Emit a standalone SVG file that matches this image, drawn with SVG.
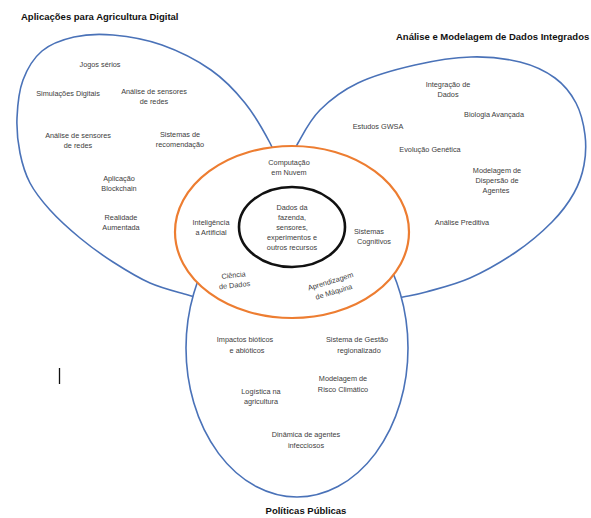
<svg xmlns="http://www.w3.org/2000/svg" width="591" height="518" viewBox="0 0 591 518">
  <style>
    .bg { fill: #ffffff; }
    .petal { fill: none; stroke: #4a72b8; stroke-width: 1.6; }
    .lobe { fill: #ffffff; stroke: #4a72b8; stroke-width: 1.6; }
    .ring { fill: #ffffff; stroke: #ed7d31; stroke-width: 2.2; }
    .core { fill: #ffffff; stroke: #111111; stroke-width: 2.6; }
    .lbl { font-family: "Liberation Sans", Arial, sans-serif; font-size: 7.3px; fill: #3d3d3d; text-anchor: middle; }
    .ttl { font-family: "Liberation Sans", Arial, sans-serif; font-size: 9.5px; font-weight: bold; fill: #111111; }
  </style>

  <rect class="bg" x="0" y="0" width="591" height="518"/>

  <!-- shapes: two side petals, lower lobe, orange ring, black core -->
  <g id="connectors">
    <path id="petal-left" class="petal" d="M215,302 C210.5,300.8 198.8,298.2 188,295 C177.2,291.8 162.5,288.5 150,283 C137.5,277.5 124.7,269.5 113,262 C101.3,254.5 90.5,246.7 80,238 C69.5,229.3 58.3,219.2 50,210 C41.7,200.8 35,192.5 30,183 C25,173.5 22.2,163.8 20,153 C17.8,142.2 16.5,130.2 17,118 C17.5,105.8 18.8,91.2 23,80 C27.2,68.8 33.5,58.2 42,51 C50.5,43.8 62.2,39.7 74,37 C85.8,34.3 98.3,33.7 113,35 C127.7,36.3 145.7,39.2 162,45 C178.3,50.8 197.2,60.3 211,70 C224.8,79.7 235.2,90.8 245,103 C254.8,115.2 263.7,131 270,143 C276.3,155 280.8,169.7 283,175"/>
    <path id="petal-right" class="petal" d="M285,172 C287.2,167.2 292.2,153.3 298,143 C303.8,132.7 310,120 320,110 C330,100 342.2,90.5 358,83 C373.8,75.5 396.2,69.3 415,65 C433.8,60.7 453.5,57.5 471,57 C488.5,56.5 506,58.5 520,62 C534,65.5 545.7,71.2 555,78 C564.3,84.8 571,93.5 576,103 C581,112.5 583.7,124.7 585,135 C586.3,145.3 585.8,155.3 584,165 C582.2,174.7 579.3,183.5 574,193 C568.7,202.5 561.7,212.2 552,222 C542.3,231.8 529.7,242.7 516,252 C502.3,261.3 485,271.3 470,278 C455,284.7 437.2,288.8 426,292 C414.8,295.2 410.7,295.5 403,297 C395.3,298.5 383.8,300.3 380,301"/>
    <ellipse id="lobe-bottom" class="lobe" cx="297" cy="348" rx="111" ry="149"/>
    <ellipse id="ring" class="ring" cx="292" cy="232" rx="117" ry="86"/>
    <ellipse id="core" class="core" cx="292" cy="227" rx="53" ry="40"/>
  </g>

  <!-- titles -->
  <text class="ttl" x="21" y="20">Aplicações para Agricultura Digital</text>
  <text class="ttl" x="396" y="40">Análise e Modelagem de Dados Integrados</text>
  <text class="ttl" x="306" y="514" text-anchor="middle">Políticas Públicas</text>

  <!-- left petal items -->
  <g id="n-jogos"><text class="lbl" x="100" y="66.6">Jogos sérios</text></g>
  <g id="n-simulacoes"><text class="lbl" x="68" y="95.6">Simulações Digitais</text></g>
  <g id="n-sensores-1"><text class="lbl" x="154" y="93.6">Análise de sensores</text><text class="lbl" x="154" y="103.6">de redes</text></g>
  <g id="n-sensores-2"><text class="lbl" x="78" y="137.6">Análise de sensores</text><text class="lbl" x="78" y="147.6">de redes</text></g>
  <g id="n-recomendacao"><text class="lbl" x="180" y="136.6">Sistemas de</text><text class="lbl" x="180" y="146.6">recomendação</text></g>
  <g id="n-blockchain"><text class="lbl" x="119" y="180.6">Aplicação</text><text class="lbl" x="119" y="190.6">Blockchain</text></g>
  <g id="n-realidade"><text class="lbl" x="121" y="219.6">Realidade</text><text class="lbl" x="121" y="229.6">Aumentada</text></g>

  <!-- ring items -->
  <g id="n-nuvem"><text class="lbl" x="289" y="164.6">Computação</text><text class="lbl" x="289" y="174.6">em Nuvem</text></g>
  <g id="n-ia"><text class="lbl" x="211" y="224.6">Inteligência</text><text class="lbl" x="211" y="234.6">a Artificial</text></g>
  <g id="n-cognitivos"><text class="lbl" x="369" y="233.6">Sistemas</text><text class="lbl" x="374" y="243.6">Cognitivos</text></g>
  <g id="n-ciencia" transform="rotate(-6 234 280)"><text class="lbl" x="234" y="277.6">Ciência</text><text class="lbl" x="234" y="287.6">de Dados</text></g>
  <g id="n-aprendizagem" transform="rotate(-17 332 286)"><text class="lbl" x="332" y="283.6">Aprendizagem</text><text class="lbl" x="332" y="294.6">de Máquina</text></g>

  <!-- core -->
  <g id="n-dados"><text class="lbl" x="292" y="209.6">Dados da</text><text class="lbl" x="292" y="219.6">fazenda,</text><text class="lbl" x="292" y="229.6">sensores,</text><text class="lbl" x="292" y="239.6">experimentos e</text><text class="lbl" x="292" y="249.6">outros recursos</text></g>

  <!-- right petal items -->
  <g id="n-integracao"><text class="lbl" x="448" y="86.6">Integração de</text><text class="lbl" x="448" y="96.6">Dados</text></g>
  <g id="n-biologia"><text class="lbl" x="494" y="116.6">Biologia Avançada</text></g>
  <g id="n-gwsa"><text class="lbl" x="378" y="128.6">Estudos GWSA</text></g>
  <g id="n-evolucao"><text class="lbl" x="430" y="151.6">Evolução Genética</text></g>
  <g id="n-dispersao"><text class="lbl" x="497" y="172.6">Modelagem de</text><text class="lbl" x="497" y="182.6">Dispersão de</text><text class="lbl" x="496" y="192.6">Agentes</text></g>
  <g id="n-preditiva"><text class="lbl" x="462" y="224.6">Análise Preditiva</text></g>

  <!-- lower lobe items -->
  <g id="n-impactos"><text class="lbl" x="245" y="341.6">Impactos bióticos</text><text class="lbl" x="247" y="352.6">e abióticos</text></g>
  <g id="n-gestao"><text class="lbl" x="357" y="341.6">Sistema de Gestão</text><text class="lbl" x="359" y="352.6">regionalizado</text></g>
  <g id="n-risco"><text class="lbl" x="343" y="380.6">Modelagem de</text><text class="lbl" x="343" y="391.6">Risco Climático</text></g>
  <g id="n-logistica"><text class="lbl" x="261" y="393.6">Logística na</text><text class="lbl" x="261" y="403.6">agricultura</text></g>
  <g id="n-dinamica"><text class="lbl" x="306" y="436.6">Dinâmica de agentes</text><text class="lbl" x="306" y="447.6">infecciosos</text></g>

  <!-- text cursor mark -->
  <line x1="59.5" y1="368" x2="59.5" y2="384" stroke="#111111" stroke-width="1.3"/>
</svg>
